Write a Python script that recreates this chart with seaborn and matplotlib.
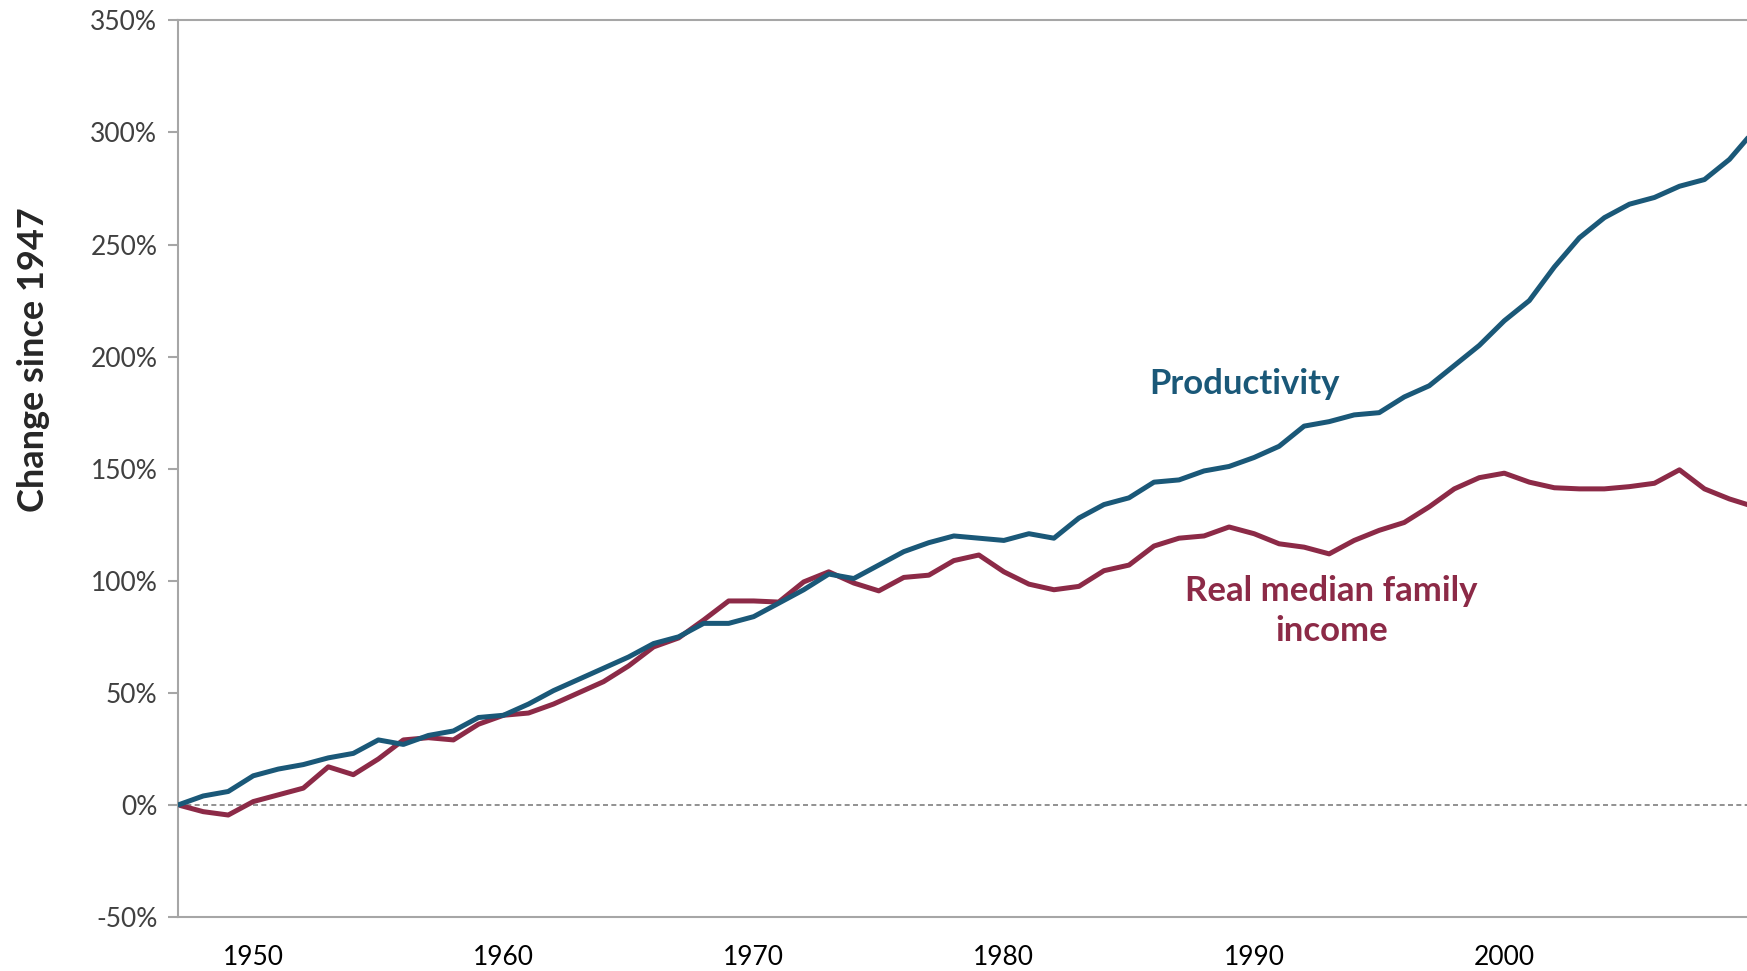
import matplotlib
matplotlib.use("Agg")
import matplotlib.pyplot as plt
import pandas as pd
import seaborn as sns
from matplotlib.ticker import FuncFormatter

# Dados (variação % desde 1947)
anos = list(range(1947, 2011))
produtividade = [
    0, 4, 6, 13, 16, 18, 21, 23, 29, 27,
    31, 33, 39, 40, 45, 51, 56, 61, 66, 72,
    75, 81, 81, 84, 90, 96, 103, 101, 107, 113,
    117, 120, 119, 118, 121, 119, 128, 134, 137, 144,
    145, 149, 151, 155, 160, 169, 171, 174, 175, 182,
    187, 196, 205, 216, 225, 240, 253, 262, 268, 271,
    276, 279, 288, 301,
]
renda_familiar = [
    0, -3, -4.5, 1.5, 4.5, 7.5, 17, 13.5, 20.5, 29,
    30, 29, 36, 40, 41, 45, 50, 55, 62, 70.5,
    74.5, 82.5, 91, 91, 90.5, 99.5, 104, 99, 95.5, 101.5,
    102.5, 109, 111.5, 104, 98.5, 96, 97.5, 104.5, 107, 115.5,
    119, 120, 124, 121, 116.5, 115, 112, 118, 122.5, 126,
    133, 141, 146, 148, 144, 141.5, 141, 141, 142, 143.5,
    149.5, 141, 136.5, 133,
]
rotulos_y = list(range(-50, 351, 50))
rotulos_x = [1950, 1960, 1970, 1980, 1990, 2000]

df = pd.DataFrame({"ano": anos, "Productivity": produtividade,
                   "Real median family income": renda_familiar})

sns.set_style("white")
plt.rcParams["font.family"] = ["Lato", "DejaVu Sans"]

azul = "#1A5878"
vinho = "#8C2A47"
cinza = "#A6A6A6"

fig = plt.figure(figsize=(17.47, 9.71), dpi=100)
ax = fig.add_axes([0.102, 0.0556, 0.898, 0.9234])

ax.axhline(0, color="#7F7F7F", lw=1.2, ls=(0, (3, 2)), zorder=1)
sns.lineplot(data=df, x="ano", y="Productivity", color=azul, lw=3.6, ax=ax, zorder=3)
sns.lineplot(data=df, x="ano", y="Real median family income", color=vinho, lw=3.6, ax=ax, zorder=2)

ax.set_xlim(1947, 2009.7)
ax.set_ylim(-50, 350)
ax.set_yticks(rotulos_y)
ax.yaxis.set_major_formatter(FuncFormatter(lambda v, p: f"{int(v)}%"))
ax.set_xticks(rotulos_x)
ax.set_xlabel("")
ax.set_ylabel("")

for lado in ["left", "top", "bottom"]:
    ax.spines[lado].set_color(cinza)
    ax.spines[lado].set_linewidth(1.5)
ax.spines["right"].set_visible(False)

ax.tick_params(axis="y", which="both", left=True, length=7, width=1.5, color=cinza,
               pad=8, labelsize=19, labelcolor="#404040")
ax.tick_params(axis="x", length=0, pad=20, labelsize=19, labelcolor="black")

ax.text(1989.6, 188, "Productivity", color=azul, fontsize=25, fontweight="bold",
        ha="center", va="center")
ax.text(1993.1, 86.5, "Real median family\nincome", color=vinho, fontsize=25,
        fontweight="bold", ha="center", va="center", linespacing=1.3)

fig.text(0.019, 0.63, "Change since 1947", rotation=90, fontsize=26,
         fontweight="bold", ha="center", va="center")

fig.savefig("out.png", dpi=100)
